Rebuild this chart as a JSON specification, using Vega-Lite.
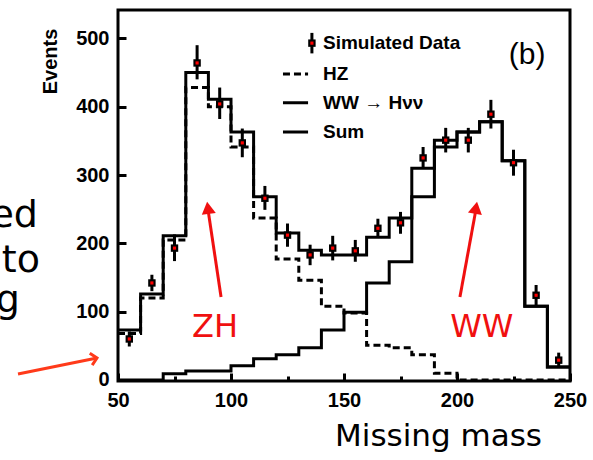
{
  "$schema": "https://vega.github.io/schema/vega-lite/v6.json",
  "width": 452,
  "height": 371,
  "autosize": {"type": "none"},
  "padding": {"left": 118, "top": 10, "right": 23, "bottom": 79},
  "background": "white",
  "config": {
    "view": {"stroke": "black", "strokeWidth": 3},
    "axis": {"domain": false, "grid": false, "tickColor": "black", "tickWidth": 3, "labelColor": "black", "titleColor": "black"}
  },
  "datasets": {
    "hist": [
      {"series": "Sum", "lo": 50, "v": 73}, {"series": "Sum", "lo": 60, "v": 126}, {"series": "Sum", "lo": 70, "v": 211}, {"series": "Sum", "lo": 80, "v": 450}, {"series": "Sum", "lo": 90, "v": 411}, {"series": "Sum", "lo": 100, "v": 363}, {"series": "Sum", "lo": 110, "v": 268}, {"series": "Sum", "lo": 120, "v": 215}, {"series": "Sum", "lo": 130, "v": 190}, {"series": "Sum", "lo": 140, "v": 183}, {"series": "Sum", "lo": 150, "v": 183}, {"series": "Sum", "lo": 160, "v": 209}, {"series": "Sum", "lo": 170, "v": 237}, {"series": "Sum", "lo": 180, "v": 310}, {"series": "Sum", "lo": 190, "v": 351}, {"series": "Sum", "lo": 200, "v": 363}, {"series": "Sum", "lo": 210, "v": 378}, {"series": "Sum", "lo": 220, "v": 321}, {"series": "Sum", "lo": 230, "v": 108}, {"series": "Sum", "lo": 240, "v": 19}, {"series": "Sum", "lo": 250, "v": 19},
      {"series": "HZ", "lo": 50, "v": 68}, {"series": "HZ", "lo": 60, "v": 120}, {"series": "HZ", "lo": 70, "v": 205}, {"series": "HZ", "lo": 80, "v": 428}, {"series": "HZ", "lo": 90, "v": 400}, {"series": "HZ", "lo": 100, "v": 341}, {"series": "HZ", "lo": 110, "v": 237}, {"series": "HZ", "lo": 120, "v": 177}, {"series": "HZ", "lo": 130, "v": 146}, {"series": "HZ", "lo": 140, "v": 108}, {"series": "HZ", "lo": 150, "v": 98}, {"series": "HZ", "lo": 160, "v": 51}, {"series": "HZ", "lo": 170, "v": 47}, {"series": "HZ", "lo": 180, "v": 37}, {"series": "HZ", "lo": 190, "v": 10}, {"series": "HZ", "lo": 200, "v": 0}, {"series": "HZ", "lo": 210, "v": 0}, {"series": "HZ", "lo": 220, "v": 0}, {"series": "HZ", "lo": 230, "v": 0}, {"series": "HZ", "lo": 240, "v": 0}, {"series": "HZ", "lo": 250, "v": 0},
      {"series": "WW", "lo": 50, "v": 0}, {"series": "WW", "lo": 60, "v": 0}, {"series": "WW", "lo": 70, "v": 9}, {"series": "WW", "lo": 80, "v": 13}, {"series": "WW", "lo": 90, "v": 13}, {"series": "WW", "lo": 100, "v": 21}, {"series": "WW", "lo": 110, "v": 31}, {"series": "WW", "lo": 120, "v": 37}, {"series": "WW", "lo": 130, "v": 47}, {"series": "WW", "lo": 140, "v": 73}, {"series": "WW", "lo": 150, "v": 99}, {"series": "WW", "lo": 160, "v": 142}, {"series": "WW", "lo": 170, "v": 173}, {"series": "WW", "lo": 180, "v": 268}, {"series": "WW", "lo": 190, "v": 341}, {"series": "WW", "lo": 200, "v": 363}, {"series": "WW", "lo": 210, "v": 378}, {"series": "WW", "lo": 220, "v": 321}, {"series": "WW", "lo": 230, "v": 108}, {"series": "WW", "lo": 240, "v": 19}, {"series": "WW", "lo": 250, "v": 19}
    ],
    "pts": [
      {"m": 55, "n": 60, "lo": 49, "hi": 71}, {"m": 65, "n": 142, "lo": 130, "hi": 154}, {"m": 75, "n": 193, "lo": 174, "hi": 213}, {"m": 85, "n": 464, "lo": 440, "hi": 490}, {"m": 95, "n": 404, "lo": 382, "hi": 428}, {"m": 105, "n": 347, "lo": 326, "hi": 368}, {"m": 115, "n": 266, "lo": 249, "hi": 284}, {"m": 125, "n": 212, "lo": 195, "hi": 229}, {"m": 135, "n": 183, "lo": 168, "hi": 198}, {"m": 145, "n": 193, "lo": 175, "hi": 211}, {"m": 155, "n": 189, "lo": 173, "hi": 205}, {"m": 165, "n": 222, "lo": 208, "hi": 236}, {"m": 175, "n": 230, "lo": 214, "hi": 246}, {"m": 185, "n": 325, "lo": 309, "hi": 341}, {"m": 195, "n": 351, "lo": 333, "hi": 369}, {"m": 205, "n": 351, "lo": 333, "hi": 369}, {"m": 215, "n": 389, "lo": 368, "hi": 410}, {"m": 225, "n": 318, "lo": 299, "hi": 337}, {"m": 235, "n": 124, "lo": 109, "hi": 139}, {"m": 245, "n": 29, "lo": 18, "hi": 40},
      {"m": 135.8, "n": 493, "lo": 478, "hi": 508}
    ],
    "leglines": [
      {"series": "HZ", "x1": 123, "x2": 134.1, "y": 448},
      {"series": "WW", "x1": 123, "x2": 134.1, "y": 405.6},
      {"series": "Sum", "x1": 123, "x2": 134.1, "y": 363}
    ],
    "legtext": [
      {"t": "Simulated Data", "x": 140.7, "y": 493},
      {"t": "HZ", "x": 140.7, "y": 448},
      {"t": "WW → Hνν", "x": 140.7, "y": 405.6},
      {"t": "Sum", "x": 140.7, "y": 363}
    ]
  },
  "layer": [
    {
      "data": {"name": "hist"},
      "mark": {"type": "line", "interpolate": "step-after", "strokeWidth": 3, "color": "black", "strokeJoin": "miter", "strokeCap": "butt"},
      "encoding": {
        "x": {"field": "lo", "type": "quantitative", "scale": {"domain": [50, 250], "nice": false, "zero": false},
          "axis": {"values": [50, 75, 100, 125, 150, 175, 200, 225, 250], "labelExpr": "datum.value % 50 === 0 ? datum.label : ''",
            "tickSize": {"condition": {"test": "datum.value % 50 === 0", "value": -8}, "value": -5},
            "labelFont": "Liberation Sans", "labelFontWeight": "bold", "labelFontSize": 20, "labelPadding": 17, "labelFlush": false,
            "title": "Missing mass", "titleFont": "DejaVu Sans", "titleFontWeight": "normal", "titleFontSize": 31, "titleX": 320, "titleY": 64, "titleAlign": "center", "titleBaseline": "alphabetic"}},
        "y": {"field": "v", "type": "quantitative", "scale": {"domain": [-1.5, 541.5], "nice": false, "zero": false},
          "axis": {"values": [0, 50, 100, 150, 200, 250, 300, 350, 400, 450, 500], "labelExpr": "datum.value % 100 === 0 ? datum.label : ''",
            "tickSize": {"condition": {"test": "datum.value % 100 === 0", "value": -8}, "value": -5},
            "labelFont": "Liberation Sans", "labelFontWeight": "bold", "labelFontSize": 20, "labelPadding": 17, "labelFlush": false,
            "title": "Events", "titleFont": "Liberation Sans", "titleFontWeight": "bold", "titleFontSize": 20, "titleX": -68, "titleY": 51, "titleAngle": 270, "titleAlign": "center", "titleBaseline": "middle"}},
        "detail": {"field": "series"},
        "strokeDash": {"field": "series", "type": "nominal", "scale": {"domain": ["HZ", "WW", "Sum"], "range": [[7, 4], [1, 0], [1, 0]]}, "legend": null},
        "order": {"field": "lo", "type": "quantitative"}
      }
    },
    {
      "data": {"name": "pts"},
      "mark": {"type": "rule", "strokeWidth": 3, "color": "black"},
      "encoding": {
        "x": {"field": "m", "type": "quantitative"},
        "y": {"field": "lo", "type": "quantitative"},
        "y2": {"field": "hi"}
      }
    },
    {
      "data": {"name": "pts"},
      "mark": {"type": "point", "shape": "square", "filled": true, "size": 55, "color": "black", "opacity": 1},
      "encoding": {
        "x": {"field": "m", "type": "quantitative"},
        "y": {"field": "n", "type": "quantitative"}
      }
    },
    {
      "data": {"name": "pts"},
      "mark": {"type": "point", "shape": "square", "filled": true, "size": 10, "color": "#ff0000", "opacity": 1},
      "encoding": {
        "x": {"field": "m", "type": "quantitative"},
        "y": {"field": "n", "type": "quantitative"}
      }
    },
    {
      "data": {"name": "leglines"},
      "mark": {"type": "rule", "strokeWidth": 3, "color": "black", "strokeCap": "butt"},
      "encoding": {
        "x": {"field": "x1", "type": "quantitative"},
        "x2": {"field": "x2"},
        "y": {"field": "y", "type": "quantitative"},
        "strokeDash": {"field": "series", "type": "nominal", "legend": null}
      }
    },
    {
      "data": {"name": "legtext"},
      "mark": {"type": "text", "align": "left", "baseline": "middle", "font": "Liberation Sans", "fontWeight": "bold", "fontSize": 19, "color": "black"},
      "encoding": {
        "x": {"field": "x", "type": "quantitative"},
        "y": {"field": "y", "type": "quantitative"},
        "text": {"field": "t"}
      }
    },
    {
      "data": {"values": [{"t": "(b)", "x": 231, "y": 476}]},
      "mark": {"type": "text", "align": "center", "baseline": "middle", "font": "Liberation Sans", "fontSize": 30, "color": "black"},
      "encoding": {
        "x": {"field": "x", "type": "quantitative"},
        "y": {"field": "y", "type": "quantitative"},
        "text": {"field": "t"}
      }
    },
    {
      "data": {"values": [{"t": "ZH", "x": 92.9, "y": 63}, {"t": "WW", "x": 211, "y": 63}]},
      "mark": {"type": "text", "align": "center", "baseline": "alphabetic", "font": "DejaVu Sans", "fontSize": 32, "color": "#f01010"},
      "encoding": {
        "x": {"field": "x", "type": "quantitative"},
        "y": {"field": "y", "type": "quantitative"},
        "text": {"field": "t"}
      }
    },
    {
      "data": {"values": [{"x": 95.6, "y": 121.5, "x2": 89.8, "y2": 250}, {"x": 201.3, "y": 121.5, "x2": 208.4, "y2": 250}]},
      "mark": {"type": "rule", "strokeWidth": 3, "color": "#f01010"},
      "encoding": {
        "x": {"field": "x", "type": "quantitative"},
        "y": {"field": "y", "type": "quantitative"},
        "x2": {"field": "x2"},
        "y2": {"field": "y2"}
      }
    },
    {
      "data": {"values": [{"x": 89.8, "y": 252}]},
      "mark": {"type": "point", "shape": "triangle-up", "filled": true, "size": 200, "color": "#f01010", "opacity": 1, "angle": 352},
      "encoding": {
        "x": {"field": "x", "type": "quantitative"},
        "y": {"field": "y", "type": "quantitative"}
      }
    },
    {
      "data": {"values": [{"x": 208.4, "y": 252}]},
      "mark": {"type": "point", "shape": "triangle-up", "filled": true, "size": 200, "color": "#f01010", "opacity": 1, "angle": 10},
      "encoding": {
        "x": {"field": "x", "type": "quantitative"},
        "y": {"field": "y", "type": "quantitative"}
      }
    },
    {
      "data": {"values": [{"x": 5.75, "y": 8.8, "x2": 40.7, "y2": 32.2}]},
      "mark": {"type": "rule", "strokeWidth": 3, "color": "#ff3a1a"},
      "encoding": {
        "x": {"field": "x", "type": "quantitative"},
        "y": {"field": "y", "type": "quantitative"},
        "x2": {"field": "x2"},
        "y2": {"field": "y2"}
      }
    },
    {
      "data": {"values": [{"x": 40.7, "y": 32.2}]},
      "mark": {"type": "point", "shape": "M-1,1L0,0L1,1", "filled": false, "size": 150, "strokeWidth": 3, "color": "#ff3a1a", "opacity": 1, "angle": 78.5},
      "encoding": {
        "x": {"field": "x", "type": "quantitative"},
        "y": {"field": "y", "type": "quantitative"}
      }
    },
    {
      "data": {"values": [{"t": "ed", "x": 14.6, "y": 224}, {"t": "to", "x": 15.5, "y": 158}, {"t": "g", "x": 6.6, "y": 99.6}]},
      "mark": {"type": "text", "align": "right", "baseline": "alphabetic", "font": "DejaVu Sans", "fontSize": 38, "color": "black"},
      "encoding": {
        "x": {"field": "x", "type": "quantitative"},
        "y": {"field": "y", "type": "quantitative"},
        "text": {"field": "t"}
      }
    }
  ]
}
